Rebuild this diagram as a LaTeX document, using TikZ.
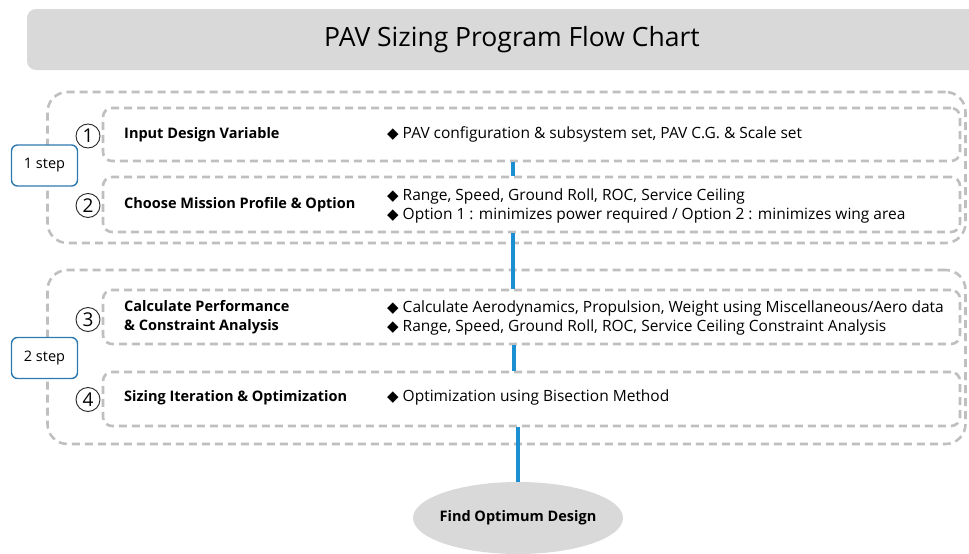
\documentclass[tikz,border=0pt]{standalone}
\usepackage{fontspec}
\setmainfont{Open Sans}
\newfontfamily\symfont{DejaVu Sans}
\usetikzlibrary{shapes.geometric}
\definecolor{dashgray}{HTML}{BFBFBF}
\definecolor{fillgray}{HTML}{D9D9D9}
\definecolor{linkblue}{HTML}{1B8FD2}
\definecolor{stepblue}{HTML}{2E7AB0}
\tikzset{
  groupbox/.style={draw=dashgray, line width=2.6pt, dash pattern=on 8pt off 5pt, rounded corners=20pt, minimum width=918pt, inner sep=0pt},
  stagebox/.style={draw=dashgray, line width=2.6pt, dash pattern=on 8pt off 5pt, rounded corners=9pt, minimum width=857pt, inner sep=0pt},
  stepbox/.style={draw=stepblue, line width=1.4pt, fill=white, rounded corners=6pt, minimum width=66pt, minimum height=41pt, inner sep=0pt, font=\fontsize{14.5}{16}\selectfont},
  numlabel/.style={circle, draw=black!85, line width=0.9pt, minimum size=24pt, inner sep=0pt, font=\fontsize{19}{19}\selectfont},
  stagelabel/.style={anchor=west, align=left, inner sep=0pt, font=\bfseries\fontsize{14.5}{19}\selectfont},
  desclabel/.style={anchor=west, align=left, inner sep=0pt, font=\fontsize{15.5}{19.5}\selectfont},
  conn/.style={draw=linkblue, line width=3.5pt},
}
\newcommand{\dia}{{\symfont\fontsize{15}{15}\selectfont ◆}\hspace{4pt}}
\begin{document}
\begin{tikzpicture}[x=1pt,y=-1pt]
\useasboundingbox (0,0) rectangle (969,554);
% title
\node[fill=fillgray, rounded corners=9pt, minimum width=960pt, minimum height=61pt, inner sep=0pt] (title) at (507,39.5) {};
\node[inner sep=0pt, font=\fontsize{26.5}{30}\selectfont] (ttext) at (512,40) {PAV Sizing Program Flow Chart};
% groups
\node[groupbox, minimum height=151pt] (g1) at (506.5,167.5) {};
\node[groupbox, minimum height=174pt] (g2) at (506.5,357) {};
% stage boxes
\node[stagebox, minimum height=53pt] (b1) at (531.5,134.5) {};
\node[stagebox, minimum height=55pt] (b2) at (531.5,204.5) {};
\node[stagebox, minimum height=54pt] (b3) at (531.5,317) {};
\node[stagebox, minimum height=54pt] (b4) at (531.5,399) {};
% connectors
\draw[conn] ([xshift=-18.5pt]b1.south) -- ([xshift=-18.5pt]b2.north);
\draw[conn] ([xshift=-18.5pt]b2.south) -- ([xshift=-18.5pt]b3.north);
\draw[conn] ([xshift=-17.5pt]b3.south) -- ([xshift=-17.5pt]b4.north);
% final
\node[ellipse, fill=fillgray, minimum width=210pt, minimum height=72pt, inner sep=0pt] (fin) at (518,518) {};
\node[inner sep=0pt, font=\bfseries\fontsize{14.5}{16}\selectfont] (fintext) at (fin.center) {Find Optimum Design};
\draw[conn] ([xshift=-13.5pt]b4.south) -- (fin.north);
% step boxes
\node[stepbox] (s1) at (44.5,165.5) {1 step};
\node[stepbox] (s2) at (44.5,358) {2 step};
% numbers
\node[numlabel] (n1) at (88,136) {1};
\node[numlabel] (n2) at (88,205.5) {2};
\node[numlabel] (n3) at (88,319.5) {3};
\node[numlabel] (n4) at (88,399.5) {4};
% stage labels
\node[stagelabel] (l1) at (124,135) {Input Design Variable};
\node[stagelabel] (l2) at (124,205) {Choose Mission Profile \& Option};
\node[stagelabel] (l3) at (124,317) {Calculate Performance\\\& Constraint Analysis};
\node[stagelabel] (l4) at (124,398) {Sizing Iteration \& Optimization};
% descriptions
\node[desclabel] (d1) at (387,134) {\dia PAV configuration \& subsystem set, PAV C.G. \& Scale set};
\node[desclabel] (d2) at (387,206) {\dia Range, Speed, Ground Roll, ROC, Service Ceiling\\\dia Option 1 : minimizes power required / Option 2 : minimizes wing area};
\node[desclabel] (d3) at (387,318) {\dia Calculate Aerodynamics, Propulsion, Weight using Miscellaneous/Aero data\\\dia Range, Speed, Ground Roll, ROC, Service Ceiling Constraint Analysis};
\node[desclabel] (d4) at (387,397) {\dia Optimization using Bisection Method};
\end{tikzpicture}
\end{document}
